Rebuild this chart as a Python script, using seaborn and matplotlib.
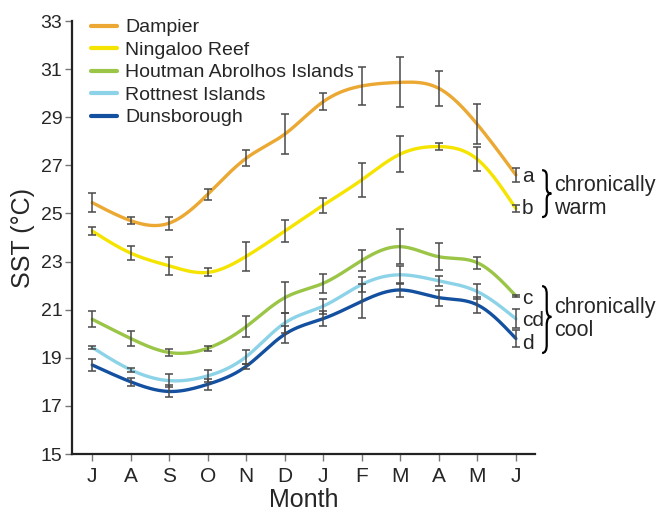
import numpy as np
import pandas as pd
import matplotlib
matplotlib.use("Agg")
import matplotlib.pyplot as plt
from matplotlib.path import Path
from matplotlib.patches import PathPatch
import seaborn as sns

# Datos (media mensual de SST y error)
meses = ["J", "A", "S", "O", "N", "D", "J", "F", "M", "A", "M", "J"]
sitios = ["Dampier", "Ningaloo Reef", "Houtman Abrolhos Islands",
          "Rottnest Islands", "Dunsborough"]
colores = ["#EBA832", "#F5E400", "#9BC546", "#8CD3E8", "#1450A0"]

dampier = [25.45, 24.7, 24.6, 25.8, 27.3, 28.3, 29.65, 30.3, 30.45, 30.2, 28.7, 26.6]
dampier_err = [0.4, 0.15, 0.27, 0.22, 0.32, 0.83, 0.35, 0.78, 1.04, 0.72, 0.83, 0.28]
ningaloo = [24.27, 23.35, 22.82, 22.55, 23.22, 24.27, 25.35, 26.4, 27.47, 27.78, 27.25, 25.2]
ningaloo_err = [0.18, 0.28, 0.37, 0.17, 0.6, 0.44, 0.31, 0.71, 0.74, 0.15, 0.5, 0.15]
houtman = [20.6, 19.8, 19.22, 19.4, 20.3, 21.5, 22.1, 23.05, 23.62, 23.2, 22.95, 21.57]
houtman_err = [0.33, 0.3, 0.14, 0.1, 0.45, 0.65, 0.4, 0.45, 0.72, 0.57, 0.26, 0.05]
rottnest = [19.43, 18.5, 18.05, 18.25, 19.05, 20.45, 21.15, 22.05, 22.45, 22.2, 21.75, 20.62]
rottnest_err = [0.05, 0.08, 0.26, 0.24, 0.29, 0.4, 0.31, 0.3, 0.37, 0.2, 0.31, 0.4]
dunsborough = [18.7, 18.0, 17.6, 17.9, 18.65, 19.98, 20.63, 21.35, 21.82, 21.5, 21.2, 19.8]
dunsborough_err = [0.26, 0.17, 0.25, 0.23, 0.1, 0.35, 0.32, 0.7, 0.3, 0.33, 0.33, 0.35]

medias = [dampier, ningaloo, houtman, rottnest, dunsborough]
errores = [dampier_err, ningaloo_err, houtman_err, rottnest_err, dunsborough_err]

grupos = ["a", "b", "c", "cd", "d"]


def spline_natural(x, y, xs):
    # Spline cúbico natural (sin scipy)
    x = np.asarray(x, float)
    y = np.asarray(y, float)
    n = len(x)
    h = np.diff(x)
    A = np.zeros((n, n))
    b = np.zeros(n)
    A[0, 0] = A[-1, -1] = 1
    for i in range(1, n - 1):
        A[i, i - 1] = h[i - 1]
        A[i, i] = 2 * (h[i - 1] + h[i])
        A[i, i + 1] = h[i]
        b[i] = 3 * ((y[i + 1] - y[i]) / h[i] - (y[i] - y[i - 1]) / h[i - 1])
    c = np.linalg.solve(A, b)
    out = np.empty_like(xs)
    for k, xv in enumerate(xs):
        i = min(max(np.searchsorted(x, xv) - 1, 0), n - 2)
        dx = xv - x[i]
        bi = (y[i + 1] - y[i]) / h[i] - h[i] * (2 * c[i] + c[i + 1]) / 3
        di = (c[i + 1] - c[i]) / (3 * h[i])
        out[k] = y[i] + bi * dx + c[i] * dx ** 2 + di * dx ** 3
    return out


def llave(ax, x0, x1, y_top, y_bot, y_mid=None):
    # Llave "}" dibujada con curvas de Bézier
    if y_mid is None:
        y_mid = (y_top + y_bot) / 2
    xm = (x0 + x1) / 2
    d = (y_top - y_bot) * 0.12
    verts = [(x0, y_top), (xm, y_top), (xm, y_top - d),
             (xm, y_mid + d), (xm, y_mid), (x1, y_mid),
             (xm, y_mid), (xm, y_mid - d),
             (xm, y_bot + d), (xm, y_bot), (x0, y_bot)]
    codes = [Path.MOVETO, Path.CURVE3, Path.CURVE3,
             Path.LINETO, Path.CURVE3, Path.CURVE3,
             Path.CURVE3, Path.CURVE3,
             Path.LINETO, Path.CURVE3, Path.CURVE3]
    ax.add_patch(PathPatch(Path(verts, codes), fill=False, lw=1.6,
                           edgecolor="black", clip_on=False))


def main():
    sns.set_theme(style="ticks")
    plt.rcParams["font.family"] = ["Liberation Sans", "DejaVu Sans"]

    x = np.arange(len(meses))
    xs = np.linspace(0, len(meses) - 1, 300)

    filas = []
    for sitio, m in zip(sitios, medias):
        ys = spline_natural(x, m, xs)
        filas.append(pd.DataFrame({"mes": xs, "sst": ys, "sitio": sitio}))
    df = pd.concat(filas, ignore_index=True)

    fig = plt.figure(figsize=(6.63, 5.14), dpi=100)
    ax = fig.add_axes([0.1086, 0.1167, 0.698, 0.8424])

    sns.lineplot(data=df, x="mes", y="sst", hue="sitio", hue_order=sitios,
                 palette=colores, linewidth=2.4, ax=ax, sort=False)

    for m, e in zip(medias, errores):
        ax.errorbar(x, m, yerr=e, fmt="none", ecolor="#4a4a4a",
                    elinewidth=1.1, capsize=3, capthick=1.1, zorder=5)

    ax.set_xlim(-0.527, 11.49)
    ax.set_ylim(15, 33)
    ax.set_xticks(x)
    ax.set_xticklabels(meses)
    ax.set_yticks(np.arange(15, 34, 2))
    ax.set_xlabel("Month", fontsize=18, labelpad=2)
    ax.set_ylabel("SST (°C)", fontsize=18, labelpad=4)
    ax.tick_params(axis="x", labelsize=15, length=5, width=1, color="#777777", pad=4)
    ax.tick_params(axis="y", labelsize=14, length=5, width=1, color="#777777", pad=2)
    for s in ["left", "bottom"]:
        ax.spines[s].set_linewidth(1.6)
        ax.spines[s].set_color("#222222")
    sns.despine(ax=ax)

    sns.move_legend(ax, "upper left", bbox_to_anchor=(0.042, 1.005), frameon=False,
                    title=None, fontsize=14, handlelength=1.3, handletextpad=0.45,
                    labelspacing=0.25, borderpad=0, borderaxespad=0)
    for linea in ax.get_legend().get_lines():
        linea.set_linewidth(3)

    # Letras de grupos y llaves
    pos_letras = [26.55, 25.22, 21.48, 20.57, 19.61]
    for letra, yl in zip(grupos, pos_letras):
        ax.text(11.16, yl, letra, fontsize=15, va="center", ha="left", clip_on=False)

    llave(ax, 11.68, 11.92, 26.8, 24.85)
    llave(ax, 11.68, 11.92, 21.98, 19.2, y_mid=20.7)
    ax.text(12.0, 26.18, "chronically", fontsize=15.5, va="center", ha="left")
    ax.text(12.0, 25.22, "warm", fontsize=15.5, va="center", ha="left")
    ax.text(12.0, 21.1, "chronically", fontsize=15.5, va="center", ha="left")
    ax.text(12.0, 20.15, "cool", fontsize=15.5, va="center", ha="left")

    fig.savefig("out.png", dpi=100)


if __name__ == "__main__":
    main()
